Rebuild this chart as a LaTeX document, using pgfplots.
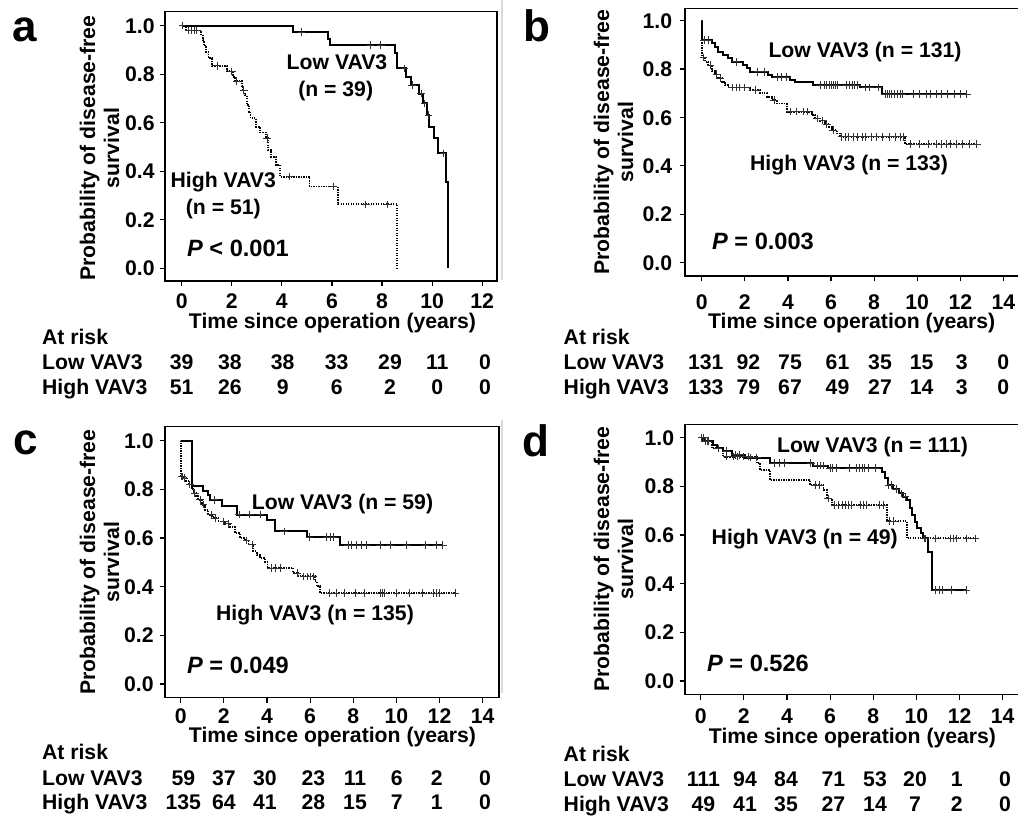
\documentclass[border=0pt]{standalone}
\usepackage{fontspec}
\setmainfont{Liberation Sans}
\usepackage{pgfplots}
\pgfplotsset{compat=1.18}
\newcommand\fs{\fontsize{10.6}{12.7}\selectfont\bfseries}
\newcommand\fp{\fontsize{11.8}{14}\selectfont\bfseries}
\newcommand\fl{\fontsize{22}{26}\selectfont\bfseries}
\pgfplotsset{
  km/.style={
    scale only axis, anchor=south west,
    axis line style={black, line width=0.6pt},
    tick style={black, line width=0.6pt},
    tick align=outside, tick pos=left,
    major tick length=2.75pt,
    ytick={0,0.2,0.4,0.6,0.8,1},
    scaled ticks=false,
    /pgf/number format/assume math mode=true,
    tick label style={font=\fs, inner sep=0pt, text height=7.6pt, text depth=0pt},
    yticklabel style={anchor=east, /pgf/number format/fixed, /pgf/number format/fixed zerofill, /pgf/number format/precision=1},
    xticklabel style={anchor=north},
  },
  low/.style={const plot, black, line width=1pt, mark=none},
  high/.style={const plot, black, line width=0.9pt, dash pattern=on 0.7pt off 0.55pt, mark=none},
  cens/.style={only marks, mark=+, mark size=1.9pt, mark options={line width=0.35pt, black!80}},
}
\begin{document}
\begin{tikzpicture}
\path[use as bounding box] (0,0) rectangle (509pt,-408.5pt);
\draw[black!15, line width=0.8pt] (251pt,0pt) -- (251pt,-140pt);
\draw[black!15, line width=0.8pt] (251pt,-210pt) -- (251pt,-346.5pt);

% ---------------- panel a
\begin{axis}[km, at={(82.5pt,-140.5pt)}, width=166pt, height=134.65pt,
  xmin=-0.667, xmax=12.59, ymin=-0.052, ymax=1.0577, xtick={0,2,...,12},
  xticklabel style={yshift=-3pt}, yticklabel style={xshift=-2.25pt}]
\addplot[low] table {
0 1
4.43 0.974
5.83 0.947
5.92 0.920
8.52 0.886
8.61 0.824
8.96 0.790
9.14 0.756
9.49 0.720
9.65 0.680
9.78 0.632
9.89 0.584
10.09 0.536
10.22 0.474
10.55 0.357
10.65 0.0
};
\addplot[cens] coordinates {(4.79,0.974) (7.52,0.920) (7.95,0.920) (8.90,0.824) (9.20,0.756) (9.55,0.720) (9.70,0.680) (9.85,0.632) (10.45,0.474)};
\addplot[high] table {
0 1
0.17 0.980
0.78 0.960
0.84 0.940
0.88 0.918
0.97 0.893
1.07 0.866
1.20 0.835
1.80 0.812
2.05 0.790
2.13 0.772
2.40 0.750
2.45 0.735
2.52 0.714
2.60 0.673
2.70 0.646
2.75 0.618
2.97 0.584
3.13 0.560
3.37 0.536
3.44 0.488
3.57 0.460
3.77 0.426
3.92 0.378
5.10 0.337
6.25 0.264
8.61 0.0
};
\addplot[cens] coordinates {(0.03,1.0) (0.28,0.98) (0.40,0.98) (0.50,0.98) (0.58,0.98) (1.42,0.835) (2.00,0.812) (2.20,0.772) (2.48,0.735) (3.40,0.536) (4.30,0.378) (6.05,0.337) (7.35,0.264) (8.20,0.264)};
\end{axis}

% ---------------- panel b
\begin{axis}[km, at={(342.5pt,-138pt)}, width=170pt, height=133.85pt,
  xmin=-0.775, xmax=15.0, ymin=-0.055, ymax=1.051, xtick={0,2,...,14},
  xticklabel style={yshift=-6.3pt}, yticklabel style={xshift=-3.5pt}]
\addplot[low] table {
0 1
0.03 0.920
0.46 0.906
0.62 0.890
0.77 0.872
1.00 0.858
1.24 0.844
1.39 0.830
1.93 0.817
2.09 0.803
2.24 0.789
3.09 0.775
3.25 0.766
4.10 0.755
4.33 0.748
5.18 0.734
7.35 0.724
8.35 0.696
12.30 0.696
};
\addplot[cens] coordinates {(0.1,0.92) (0.3,0.92) (1.6,0.830) (2.6,0.789) (2.9,0.789) (3.5,0.766) (3.7,0.766) (3.95,0.766) (5.5,0.734) (5.7,0.734) (5.8,0.734) (5.9,0.734) (6.0,0.734) (6.1,0.734) (6.2,0.734) (6.3,0.734) (6.7,0.734) (6.85,0.734) (7.0,0.734) (7.1,0.734) (7.2,0.734) (7.6,0.724) (7.8,0.724) (8.2,0.724) (8.5,0.696) (8.6,0.696) (8.7,0.696) (8.8,0.696) (8.95,0.696) (9.1,0.696) (9.2,0.696) (9.3,0.696) (9.8,0.696) (10.1,0.696) (10.4,0.696) (10.6,0.696) (10.9,0.696) (11.1,0.696) (11.4,0.696) (11.7,0.696) (12.0,0.696) (12.3,0.696)};
\addplot[high] table {
0 1
0.03 0.848
0.15 0.830
0.31 0.817
0.46 0.793
0.62 0.780
0.77 0.762
0.93 0.748
1.08 0.734
1.24 0.724
2.24 0.713
2.71 0.700
3.02 0.686
3.25 0.672
3.48 0.658
3.94 0.624
5.10 0.610
5.26 0.596
5.49 0.587
5.72 0.573
5.88 0.562
6.03 0.548
6.26 0.534
6.42 0.520
9.44 0.490
12.76 0.490
};
\addplot[cens] coordinates {(0.08,0.848) (0.4,0.817) (0.7,0.780) (0.85,0.762) (1.4,0.724) (1.6,0.724) (1.75,0.724) (2.0,0.724) (2.5,0.713) (3.35,0.672) (4.1,0.624) (4.4,0.624) (4.7,0.624) (4.9,0.624) (5.35,0.596) (5.6,0.587) (5.8,0.573) (6.1,0.548) (6.5,0.520) (6.65,0.520) (6.8,0.520) (7.05,0.520) (7.2,0.520) (7.45,0.520) (7.6,0.520) (7.85,0.520) (8.1,0.520) (8.4,0.520) (8.7,0.520) (9.0,0.520) (9.2,0.520) (9.35,0.520) (9.7,0.490) (10.1,0.490) (10.5,0.490) (10.9,0.490) (11.1,0.490) (11.35,0.490) (11.55,0.490) (11.8,0.490) (12.1,0.490) (12.4,0.490) (12.76,0.490)};
\end{axis}

% ---------------- panel c
\begin{axis}[km, at={(82.5pt,-348.65pt)}, width=167pt, height=135.5pt,
  xmin=-0.728, xmax=14.757, ymin=-0.055, ymax=1.059, xtick={0,2,...,14},
  xticklabel style={yshift=-2.5pt}, yticklabel style={xshift=-2.75pt}]
\addplot[low] table {
0 1
0.54 0.812
1.02 0.795
1.25 0.776
1.36 0.757
1.90 0.733
2.60 0.696
4.02 0.675
4.37 0.627
5.84 0.604
7.39 0.570
12.18 0.570
};
\addplot[cens] coordinates {(1.55,0.757) (2.7,0.696) (3.2,0.696) (3.7,0.696) (4.79,0.627) (5.97,0.604) (6.77,0.604) (6.92,0.604) (7.08,0.604) (7.77,0.570) (7.93,0.570) (8.16,0.570) (8.39,0.570) (8.62,0.570) (9.24,0.570) (9.71,0.570) (10.48,0.570) (11.33,0.570) (11.87,0.570) (12.15,0.570)};
\addplot[high] table {
0 1
0.02 0.853
0.12 0.847
0.25 0.833
0.36 0.820
0.51 0.800
0.59 0.785
0.71 0.771
0.82 0.757
0.97 0.737
1.13 0.716
1.28 0.696
1.51 0.682
1.75 0.668
2.06 0.658
2.29 0.644
2.52 0.620
2.75 0.600
2.98 0.589
3.14 0.573
3.37 0.545
3.52 0.530
3.68 0.518
3.91 0.501
4.02 0.477
5.22 0.456
5.46 0.442
6.23 0.422
6.31 0.401
6.46 0.374
12.72 0.374
};
\addplot[cens] coordinates {(0.05,0.853) (0.08,0.853) (0.18,0.847) (0.42,0.820) (0.65,0.785) (0.9,0.757) (1.05,0.737) (1.4,0.696) (1.6,0.682) (2.0,0.668) (2.2,0.658) (3.05,0.589) (3.3,0.573) (4.2,0.477) (4.4,0.477) (4.6,0.477) (5.4,0.456) (5.7,0.442) (5.85,0.442) (6.0,0.442) (6.15,0.442) (6.9,0.374) (7.2,0.374) (7.6,0.374) (8.1,0.374) (8.5,0.374) (9.25,0.374) (9.35,0.374) (9.45,0.374) (10.0,0.374) (10.6,0.374) (11.2,0.374) (11.7,0.374) (11.85,0.374) (12.0,0.374) (12.72,0.374)};
\end{axis}

% ---------------- panel d
\begin{axis}[km, at={(342.5pt,-347.15pt)}, width=170pt, height=135pt,
  xmin=-0.728, xmax=15.035, ymin=-0.055, ymax=1.055, xtick={0,2,...,14},
  xticklabel style={yshift=-3.8pt}, yticklabel style={xshift=-2.5pt}]
\addplot[low] table {
0 1
0.12 0.986
0.59 0.970
0.74 0.956
1.05 0.945
1.44 0.930
2.06 0.918
3.21 0.895
5.22 0.885
5.92 0.875
8.39 0.860
8.55 0.833
8.66 0.805
8.93 0.789
9.17 0.771
9.40 0.757
9.55 0.744
9.68 0.710
9.78 0.682
9.94 0.655
10.05 0.627
10.20 0.607
10.29 0.586
10.56 0.532
10.71 0.374
12.33 0.374
};
\addplot[cens] coordinates {(0.05,1.0) (0.2,0.986) (0.35,0.986) (1.2,0.945) (1.6,0.930) (1.8,0.930) (2.3,0.918) (2.6,0.918) (3.4,0.895) (3.65,0.895) (3.9,0.895) (5.1,0.895) (5.4,0.885) (5.55,0.885) (5.7,0.885) (6.0,0.875) (6.1,0.875) (6.3,0.875) (6.9,0.875) (7.2,0.875) (7.35,0.875) (7.5,0.875) (7.6,0.875) (7.75,0.875) (8.1,0.875) (8.7,0.805) (8.85,0.805) (9.05,0.789) (9.3,0.771) (9.48,0.757) (10.35,0.586) (10.9,0.374) (11.05,0.374) (11.2,0.374) (11.6,0.374) (12.33,0.374)};
\addplot[high] table {
0 1
0.20 0.986
0.51 0.956
1.05 0.922
2.60 0.895
2.75 0.867
3.21 0.826
5.07 0.805
5.69 0.785
5.84 0.750
6.07 0.723
8.62 0.658
9.55 0.586
12.72 0.586
};
\addplot[cens] coordinates {(0.05,1.0) (0.1,1.0) (0.3,0.986) (0.8,0.956) (1.2,0.922) (1.5,0.922) (1.7,0.922) (2.0,0.922) (2.2,0.922) (5.3,0.805) (5.5,0.805) (5.9,0.750) (6.2,0.723) (6.4,0.723) (6.55,0.723) (6.7,0.723) (6.85,0.723) (7.0,0.723) (7.4,0.723) (7.55,0.723) (7.7,0.723) (8.3,0.723) (8.45,0.723) (8.75,0.658) (8.95,0.658) (10.4,0.586) (10.9,0.586) (11.56,0.586) (11.7,0.586) (11.87,0.586) (12.33,0.586) (12.72,0.586)};
\end{axis}

% ---------------- text (pixel units, y down)
\begin{scope}[x=0.5pt, y=-0.5pt, every node/.style={inner sep=0pt, font=\fs}]
% panel letters
\node[anchor=base west, font=\fl] at (12,42) {a};
\node[anchor=base west, font=\fl] at (523,42) {b};
\node[anchor=base west, font=\fl] at (13,455) {c};
\node[anchor=base west, font=\fl] at (522,457) {d};
% y labels
\foreach \xa/\xb/\yc in {95/119/148, 609/633/142, 95/119/562, 609/633/559}{
  \node[rotate=90, anchor=base] at (\xa,\yc) {Probability of disease-free};
  \node[rotate=90, anchor=base] at (\xb,\yc) {survival};
}
% x labels
\node[anchor=base] at (332.5,328.5) {Time since operation (years)};
\node[anchor=base] at (851.7,329) {Time since operation (years)};
\node[anchor=base] at (332.5,742.5) {Time since operation (years)};
\node[anchor=base] at (852.5,744) {Time since operation (years)};
% curve labels
\node[anchor=base] at (337,70) {Low VAV3};
\node[anchor=base] at (335.7,96.7) {(n = 39)};
\node[anchor=base] at (223.3,188) {High VAV3};
\node[anchor=base] at (223.3,215) {(n = 51)};
\node[anchor=base west, font=\fp] at (186.7,256.7) {\textit{P} < 0.001};
\node[anchor=base] at (865,57.3) {Low VAV3 (n = 131)};
\node[anchor=base] at (849,171) {High VAV3 (n = 133)};
\node[anchor=base west, font=\fp] at (711.7,250) {\textit{P} = 0.003};
\node[anchor=base] at (342.5,509.3) {Low VAV3 (n = 59)};
\node[anchor=base] at (315,621) {High VAV3 (n = 135)};
\node[anchor=base west, font=\fp] at (186.7,673.3) {\textit{P} = 0.049};
\node[anchor=base] at (872.5,452.7) {Low VAV3 (n = 111)};
\node[anchor=base] at (804.7,545) {High VAV3 (n = 49)};
\node[anchor=base west, font=\fp] at (706.7,671.7) {\textit{P} = 0.526};
% at-risk tables
\foreach \x/\yy in {41.7/0, 563.3/0, 41.7/415, 563.3/416.7}{
  \node[anchor=base west] at (\x,345+\yy) {At risk};
  \node[anchor=base west] at (\x,370+\yy) {Low VAV3};
  \node[anchor=base west] at (\x,395+\yy) {High VAV3};
}
\foreach \x/\lo/\hi in {181.7/39/51, 230/38/26, 282.7/38/9, 336.7/33/6, 390/29/2, 437.3/11/0, 485/0/0}{
  \node[anchor=base] at (\x,370) {\lo};
  \node[anchor=base] at (\x,395) {\hi};
}
\foreach \x/\lo/\hi in {705.7/131/133, 748.3/92/79, 790/75/67, 837.5/61/49, 880/35/27, 921.7/15/14, 961.7/3/3, 1003.3/0/0}{
  \node[anchor=base] at (\x,370) {\lo};
  \node[anchor=base] at (\x,395) {\hi};
}
\foreach \x/\lo/\hi in {183.3/59/135, 224/37/64, 265/30/41, 313.3/23/28, 355/11/15, 396.7/6/7, 436.7/2/1, 485/0/0}{
  \node[anchor=base] at (\x,785) {\lo};
  \node[anchor=base] at (\x,810) {\hi};
}
\foreach \x/\lo/\hi in {703.3/111/49, 745/94/41, 786/84/35, 833.3/71/27, 875/53/14, 915/20/7, 956.7/1/2, 1005/0/0}{
  \node[anchor=base] at (\x,786.7) {\lo};
  \node[anchor=base] at (\x,811.7) {\hi};
}
\end{scope}
\end{tikzpicture}
\end{document}
